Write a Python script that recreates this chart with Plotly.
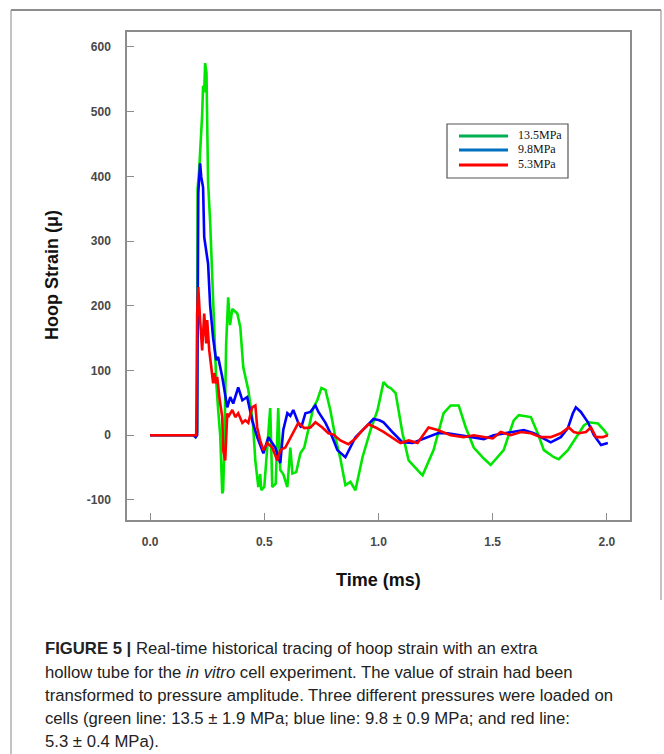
import plotly.graph_objects as go

# ---------------- data ----------------
green_t = [0.000, 0.190, 0.198, 0.206, 0.208, 0.215, 0.228, 0.232, 0.237, 0.241, 0.247, 0.250, 0.254, 0.263,
           0.268, 0.275, 0.283, 0.290, 0.298, 0.307, 0.316, 0.320, 0.325, 0.333, 0.342, 0.350, 0.360, 0.382,
           0.395, 0.408, 0.430, 0.439, 0.450, 0.461, 0.474, 0.482, 0.487, 0.500, 0.518, 0.526, 0.535, 0.550,
           0.561, 0.570, 0.583, 0.601, 0.614, 0.623, 0.640, 0.658, 0.675, 0.693, 0.715, 0.732, 0.750, 0.768,
           0.789, 0.811, 0.833, 0.855, 0.877, 0.899, 0.930, 0.965, 0.996, 1.022, 1.040, 1.053, 1.075, 1.105,
           1.132, 1.184, 1.193, 1.241, 1.285, 1.316, 1.351, 1.382, 1.417, 1.461, 1.491, 1.548, 1.592, 1.614,
           1.667, 1.697, 1.724, 1.768, 1.789, 1.829, 1.864, 1.899, 1.921, 1.961, 1.987, 2.004]
green_v = [0, 0, -3, 5, 380, 410, 495, 540, 530, 575, 560, 495, 390, 330,
           280, 200, 140, 80, 40, 0, -90, -85, -20, 140, 213, 170, 195, 188,
           167, 105, 70, 50, 20, -40, -80, -60, -85, -80, 3, 42, -80, -75,
           42, -54, -60, -80, -19, -59, -57, -28, -19, 8, 43, 54, 73, 70,
           39, -3, -36, -77, -72, -85, -34, 8, 39, 82, 75, 73, 65, 3,
           -39, -59, -62, -23, 34, 46, 46, 12, -19, -36, -46, -23, 23, 31,
           28, 3, -23, -34, -37, -23, -3, 15, 20, 18, 8, 0]

blue_t = [0.000, 0.190, 0.200, 0.206, 0.211, 0.219, 0.224, 0.232, 0.237, 0.246, 0.254, 0.263, 0.272, 0.276,
          0.289, 0.298, 0.316, 0.325, 0.338, 0.351, 0.364, 0.386, 0.404, 0.425, 0.447, 0.469, 0.496, 0.518,
          0.548, 0.570, 0.583, 0.601, 0.614, 0.627, 0.649, 0.662, 0.680, 0.702, 0.724, 0.737, 0.768, 0.798,
          0.820, 0.855, 0.877, 0.899, 0.943, 0.978, 1.004, 1.022, 1.066, 1.105, 1.149, 1.197, 1.259, 1.303,
          1.360, 1.417, 1.461, 1.504, 1.548, 1.592, 1.636, 1.680, 1.724, 1.754, 1.798, 1.829, 1.851, 1.864,
          1.886, 1.917, 1.943, 1.974, 2.004]
blue_v = [0, 0, -3, 0, 374, 420, 399, 383, 306, 281, 265, 200, 167, 150,
          116, 121, 90, 70, 43, 59, 49, 74, 54, 59, 23, -3, -28, -3,
          -19, -43, 8, 34, 30, 39, 19, 12, 34, 36, 46, 36, 19, -3,
          -23, -34, -19, -3, 12, 25, 23, 20, 3, -11, -12, -5, 3, 3,
          0, -3, -6, 0, 3, 5, 8, 3, -5, -11, -3, 11, 34, 43,
          36, 20, 0, -15, -12]

red_t = [0.000, 0.190, 0.202, 0.206, 0.211, 0.219, 0.228, 0.237, 0.246, 0.250, 0.259, 0.268, 0.276, 0.281,
         0.289, 0.294, 0.303, 0.316, 0.320, 0.329, 0.338, 0.342, 0.360, 0.373, 0.386, 0.404, 0.417, 0.430,
         0.447, 0.461, 0.469, 0.482, 0.496, 0.513, 0.535, 0.557, 0.570, 0.592, 0.623, 0.649, 0.675, 0.702,
         0.724, 0.754, 0.781, 0.803, 0.833, 0.868, 0.899, 0.930, 0.956, 0.987, 1.022, 1.066, 1.096, 1.132,
         1.171, 1.219, 1.259, 1.316, 1.373, 1.417, 1.461, 1.500, 1.535, 1.579, 1.623, 1.667, 1.711, 1.754,
         1.798, 1.833, 1.855, 1.877, 1.908, 1.930, 1.952, 1.982, 2.004]
red_v = [0, 0, 0, 188, 229, 178, 131, 188, 142, 178, 131, 105, 80, 96,
         80, 90, 59, 28, -23, -39, 34, 28, 39, 28, 34, 19, 23, 19,
         43, 46, 12, -8, -23, -12, -19, -39, -23, -19, 3, 19, 11, 12,
         20, 12, 3, 1, -8, -14, -5, 8, 17, 12, 5, -5, -12, -8,
         -12, 12, 8, 0, -3, 0, -3, -5, 5, 0, 5, 3, -3, -3,
         3, 12, 5, 3, 5, 12, -3, -3, 0]

series_names = ["13.5MPa", "9.8MPa", "5.3MPa"]
line_colors = ["#00e600", "#0000ff", "#ff0000"]
legend_colors = ["#00b050", "#0070c0", "#ff0000"]

x_ticks = [0.0, 0.5, 1.0, 1.5, 2.0]
y_ticks = [-100, 0, 100, 200, 300, 400, 500, 600]

caption_lines = [
    "<b>FIGURE 5 |</b> Real-time historical tracing of hoop strain with an extra",
    "hollow tube for the <i>in vitro</i> cell experiment. The value of strain had been",
    "transformed to pressure amplitude. Three different pressures were loaded on",
    "cells (green line: 13.5 ± 1.9 MPa; blue line: 9.8 ± 0.9 MPa; and red line:",
    "5.3 ± 0.4 MPa).",
]

# ---------------- figure ----------------
W, H = 664, 754
L, R, T, B = 127, 630, 32, 520  # plot area in pixels


def px(xp):
    return (xp - L) / (R - L)


def py(yp):
    return (B - yp) / (B - T)


fig = go.Figure()
for t, v, name, col in zip([green_t, blue_t, red_t], [green_v, blue_v, red_v], series_names, line_colors):
    fig.add_trace(go.Scatter(x=t, y=v, mode="lines", name=name,
                             line=dict(color=col, width=2.6), showlegend=False))

axis_common = dict(showgrid=False, zeroline=False, showline=True, mirror=True,
                   linecolor="#8c8c8c", linewidth=1.5, ticks="inside", ticklen=7,
                   tickcolor="#8c8c8c", tickwidth=1.2,
                   tickfont=dict(family="Liberation Sans", size=12, color="#484848", weight="bold"))

fig.update_xaxes(range=[-0.101, 2.101], tickvals=x_ticks, ticktext=[f"{v:.1f}" for v in x_ticks],
                 ticklabelstandoff=10, **axis_common)
fig.update_yaxes(range=[-131, 623], tickvals=y_ticks, ticktext=[str(v) for v in y_ticks],
                 ticklabelstandoff=12, **axis_common)

shapes = []
annotations = []

# axis titles
annotations.append(dict(text="<b>Time (ms)</b>", xref="paper", yref="paper", x=px(378), y=py(580),
                        xanchor="center", yanchor="middle", showarrow=False,
                        font=dict(family="Liberation Sans", size=18, color="#111111")))
annotations.append(dict(text="<b>Hoop Strain (μ)</b>", xref="paper", yref="paper", x=px(52), y=py(275),
                        xanchor="center", yanchor="middle", showarrow=False, textangle=-90,
                        font=dict(family="Liberation Sans", size=18, color="#111111")))

# custom legend box
shapes.append(dict(type="rect", xref="paper", yref="paper", x0=px(447), x1=px(568), y0=py(124), y1=py(178),
                   line=dict(color="#555555", width=1.2), fillcolor="white", layer="above"))
leg_y = [135, 149, 164]
for yy, name, col in zip(leg_y, series_names, legend_colors):
    shapes.append(dict(type="line", xref="paper", yref="paper", x0=px(459), x1=px(508), y0=py(yy + 1), y1=py(yy + 1),
                       line=dict(color=col, width=3), layer="above"))
    annotations.append(dict(text=name, xref="paper", yref="paper", x=px(516), y=py(yy),
                            xanchor="left", yanchor="middle", showarrow=False,
                            font=dict(family="Liberation Serif", size=12, color="#111111")))

# outer figure frame
shapes.append(dict(type="line", xref="paper", yref="paper", x0=px(11), x1=px(661), y0=py(10), y1=py(10),
                   line=dict(color="#666666", width=1.5)))
shapes.append(dict(type="line", xref="paper", yref="paper", x0=px(11), x1=px(11), y0=py(10), y1=py(754),
                   line=dict(color="#999999", width=1.2)))
shapes.append(dict(type="line", xref="paper", yref="paper", x0=px(661), x1=px(661), y0=py(10), y1=py(600),
                   line=dict(color="#999999", width=1.2)))

# caption
cap_y = [648, 672, 695, 718, 741]
for yy, line in zip(cap_y, caption_lines):
    annotations.append(dict(text=line, xref="paper", yref="paper", x=px(43), y=py(yy),
                            xanchor="left", yanchor="middle", showarrow=False,
                            font=dict(family="Liberation Sans", size=16.7, color="#222222")))

fig.update_layout(width=W, height=H, margin=dict(l=L, r=W - R, t=T, b=H - B),
                  paper_bgcolor="white", plot_bgcolor="white",
                  shapes=shapes, annotations=annotations)

fig.write_html("out.html")
